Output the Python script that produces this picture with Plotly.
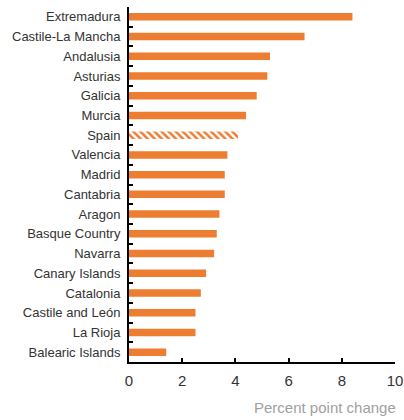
import plotly.graph_objects as go

regions = ["Extremadura", "Castile-La Mancha", "Andalusia", "Asturias", "Galicia",
           "Murcia", "Spain", "Valencia", "Madrid", "Cantabria", "Aragon",
           "Basque Country", "Navarra", "Canary Islands", "Catalonia",
           "Castile and León", "La Rioja", "Balearic Islands"]
values = [8.4, 6.6, 5.3, 5.2, 4.8, 4.4, 4.1, 3.7, 3.6, 3.6, 3.4, 3.3, 3.2, 2.9,
          2.7, 2.5, 2.5, 1.4]
x_ticks = [0, 2, 4, 6, 8, 10]
x_title = "Percent point change"

ORANGE = "#ED7D31"
FONT = "Liberation Sans, Arial, sans-serif"

shapes = ["\\" if r == "Spain" else "" for r in regions]

fig = go.Figure(go.Bar(
    x=values, y=regions, orientation="h",
    marker=dict(color=ORANGE, line=dict(width=0),
                pattern=dict(shape=shapes, fgcolor=ORANGE, bgcolor="white",
                             size=5, solidity=0.5, fillmode="replace")),
))

fig.update_layout(
    width=404, height=420,
    margin=dict(l=129, r=9, t=7, b=58, autoexpand=False),
    paper_bgcolor="white", plot_bgcolor="white",
    bargap=0.62, showlegend=False,
    font=dict(family=FONT, size=13, color="#333333"),
    xaxis=dict(range=[0, 10], tickvals=x_ticks, showgrid=False, zeroline=False,
               showline=True, linecolor="black", linewidth=2,
               ticks="inside", ticklen=4, tickwidth=2, tickcolor="black",
               tickfont=dict(size=15), ticklabelstandoff=4, automargin=False),
    yaxis=dict(autorange="reversed", showgrid=False, zeroline=False,
               showline=True, linecolor="black", linewidth=2,
               ticks="inside", ticklen=4, tickwidth=2, tickcolor="black",
               tickson="boundaries", ticklabelstandoff=4, automargin=False),
    annotations=[dict(text=x_title, xref="paper", yref="paper", x=1, y=0,
                      xanchor="right", yanchor="middle", xshift=3, yshift=-45,
                      showarrow=False, font=dict(family=FONT, size=15, color="#a0a0a0"))],
)

fig.write_html("out.html", config={"displayModeBar": False},
               post_script="document.body.style.margin='0px';")
